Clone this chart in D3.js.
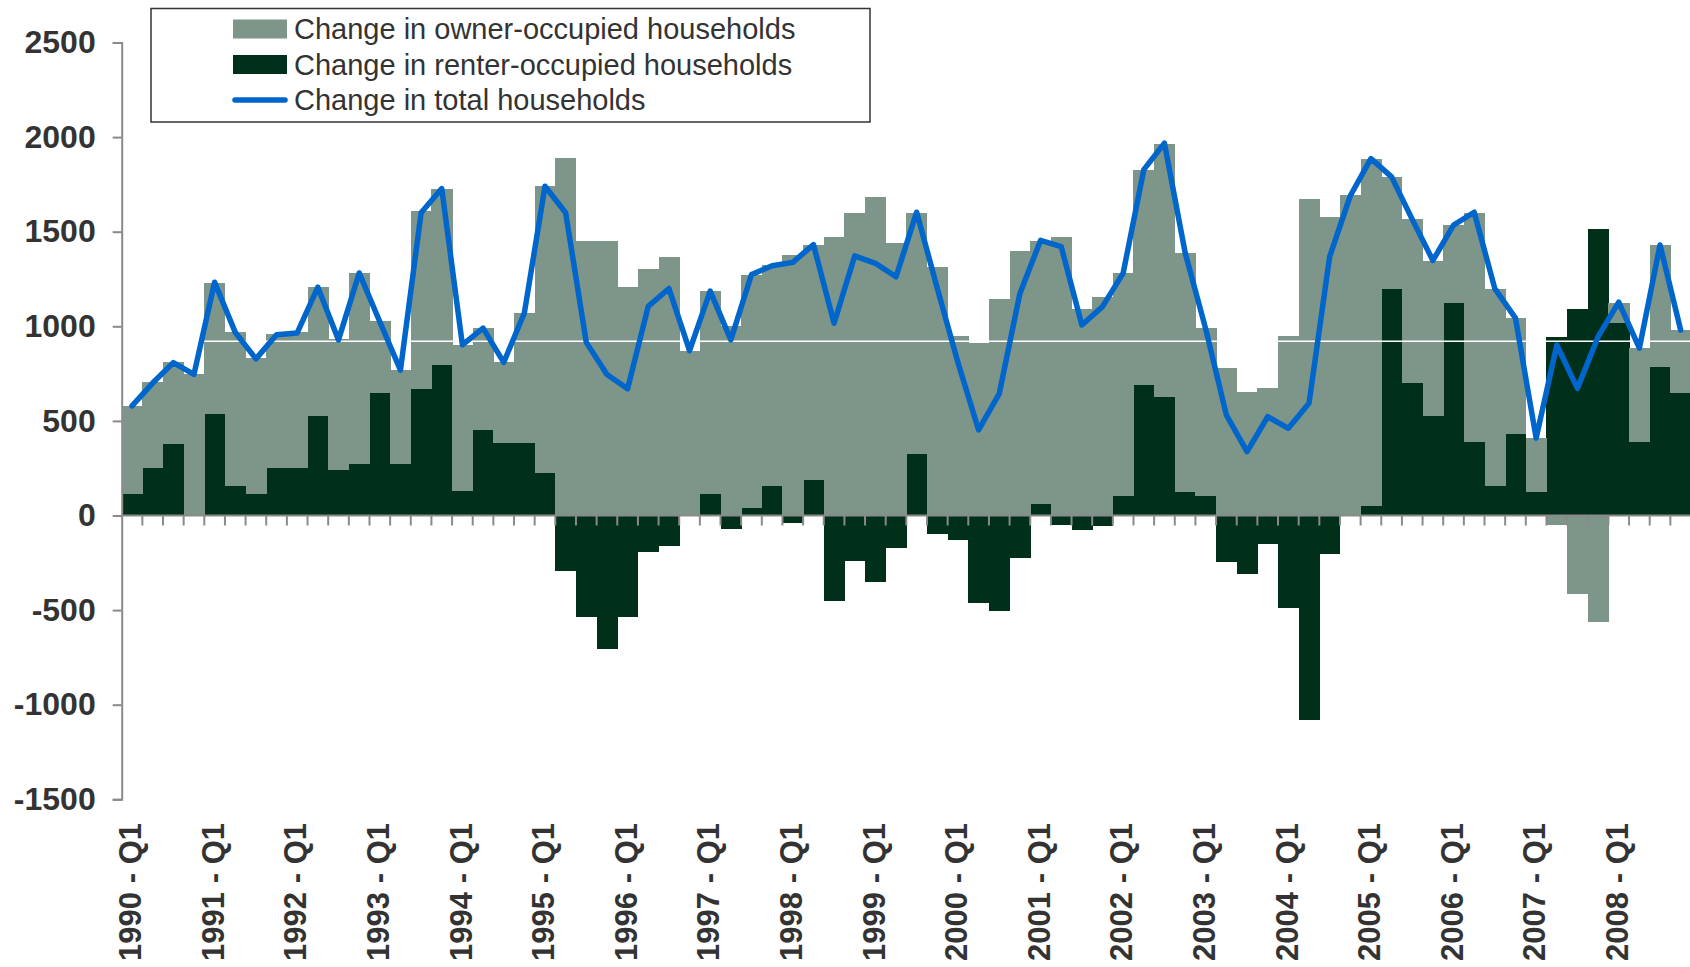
<!DOCTYPE html>
<html>
<head>
<meta charset="utf-8">
<script src="https://cdn.jsdelivr.net/npm/d3@7/dist/d3.min.js"></script>
<style>
  html, body { margin: 0; padding: 0; background: #ffffff; }
  svg { display: block; }
  text { font-family: "Liberation Sans", Arial, sans-serif; }
</style>
</head>
<body>
<svg id="chart" width="1690" height="967"></svg>
<script>
// ---------- DATA ----------
const years = [1990,1991,1992,1993,1994,1995,1996,1997,1998,1999,2000,2001,2002,2003,2004,2005,2006,2007,2008];
const quarterNames = ["Q1","Q2","Q3","Q4"];
const tickLabels = ["1990 - Q1","1991 - Q1","1992 - Q1","1993 - Q1","1994 - Q1","1995 - Q1","1996 - Q1","1997 - Q1","1998 - Q1","1999 - Q1","2000 - Q1","2001 - Q1","2002 - Q1","2003 - Q1","2004 - Q1","2005 - Q1","2006 - Q1","2007 - Q1","2008 - Q1"];
const yTicks = [-1500,-1000,-500,0,500,1000,1500,2000,2500];

// Change in owner-occupied households (thousands), 1990 Q1 .. 2008 Q4
const owner = [
  465, 453, 432, 746,   691, 814, 717, 708,   719, 682, 695, 1008,  382, 499, 940, 932,
  768, 542, 424, 685,   1514, 1890, 1450, 1450, 1206, 1302, 1366, 866, 1072, 1003, 1231, 1168,
  1377, 1242, 1472, 1599, 1684, 1440, 1274, 1314, 949, 914, 1144, 1398, 1390, 1472, 1092, 1155,
  1179, 1136, 1338, 1263, 888, 780, 653, 674,   949, 1673, 1578, 1694, 1834, 592, 867, 819,
  412, 1211, 1041, 613,  285, -48, -416, -563,  106, 497, 646, 333
];
// Change in renter-occupied households
const renter = [
  114, 251, 378, 0,     536, 156, 114, 251,   251, 526, 240, 272,   646, 271, 667, 794,
  132, 450, 385, 385,   226, -292, -535, -706, -535, -195, -163, 5,  114, -73, 40, 156,
  -41, 188, -450, -239, -354, -173, 325, -99,  -131, -460, -503, -227, 61, -51, -78, -57,
  103, 690, 626, 124,   103, -244, -310, -150, -490, -1080, -204, -5, 50, 1197, 700, 526,
  1123, 388, 156, 431,  124, 945, 1091, 1514, 1017, 388, 784, 647
];
// Change in total households
const total = [
  579, 700, 808, 746,   1233, 968, 828, 955,  965, 1207, 928, 1282, 1024, 768, 1600, 1728,
  902, 990, 809, 1070,  1740, 1600, 915, 745,  670, 1105, 1200, 871, 1186, 928, 1274, 1320,
  1338, 1432, 1016, 1372, 1333, 1262, 1603, 1200, 808, 452, 644, 1174, 1454, 1421, 1007, 1104,
  1281, 1828, 1968, 1390, 985, 531, 338, 522,   461, 593, 1368, 1690, 1886, 1790, 1565, 1348,
  1535, 1603, 1199, 1043, 409, 901, 672, 945,   1128, 884, 1430, 980
];
const seriesNames = ["Change in owner-occupied households","Change in renter-occupied households","Change in total households"];
const seamValue = 921;

// ---------- BUILD ----------
const quarters = [];
years.forEach(y => quarterNames.forEach(q => quarters.push(y + " - " + q)));
const rows = quarters.map((q, i) => ({ q, owner: owner[i], renter: renter[i], total: total[i] }));

const colors = { owner: "#7d9689", renter: "#00301a", total: "#0066cc" };
const textColor = "#333333";
const axisColor = "#8a8a8a";

const svg = d3.select("#chart");

const x = d3.scaleBand().domain(quarters).range([121.7, 1691]).paddingInner(0).paddingOuter(0);
const y = d3.scaleLinear().domain([-1500, 2500]).range([799.3, 42.5]);

const stack = d3.stack().keys(["renter", "owner"]).offset(d3.stackOffsetDiverging);
const stacked = stack(rows);

const plot = svg.append("g");
stacked.forEach(layer => {
  plot.append("g")
    .attr("fill", colors[layer.key])
    .attr("shape-rendering", "crispEdges")
    .selectAll("rect")
    .data(layer)
    .join("rect")
    .attr("x", d => x(d.data.q))
    .attr("width", x.bandwidth() + 0.5)
    .attr("y", d => y(Math.max(d[0], d[1])))
    .attr("height", d => Math.abs(y(d[0]) - y(d[1])));
});

// faint white seam visible across the bars in the original
plot.append("line")
  .attr("x1", x.range()[0]).attr("x2", x.range()[1])
  .attr("y1", y(seamValue)).attr("y2", y(seamValue))
  .attr("stroke", "#ffffff").attr("stroke-width", 1.5);

// ---------- AXES ----------
const yAxis = d3.axisLeft(y).tickValues(yTicks).tickSize(9).tickPadding(17).tickFormat(d => String(d));
const gy = svg.append("g").attr("transform", `translate(${x.range()[0]},0)`).call(yAxis);
gy.select(".domain").attr("stroke", axisColor).attr("stroke-width", 2);
gy.selectAll(".tick line").attr("stroke", axisColor).attr("stroke-width", 2);
gy.selectAll(".tick text")
  .attr("fill", textColor)
  .style("font-size", "32px")
  .style("font-weight", "bold")
  .style("font-family", "'Liberation Sans', Arial, sans-serif");

const gx = svg.append("g");
gx.append("line")
  .attr("x1", x.range()[0]).attr("x2", x.range()[1])
  .attr("y1", y(0)).attr("y2", y(0))
  .attr("stroke", axisColor).attr("stroke-width", 2);
gx.selectAll("line.tk")
  .data(quarters.slice(1).concat(["__end"]))
  .join("line")
  .attr("class", "tk")
  .attr("x1", d => d === "__end" ? x.range()[1] : x(d))
  .attr("x2", d => d === "__end" ? x.range()[1] : x(d))
  .attr("y1", y(0)).attr("y2", y(0) + 10)
  .attr("stroke", axisColor).attr("stroke-width", 2);

svg.append("g").selectAll("text")
  .data(tickLabels)
  .join("text")
  .attr("transform", d => `translate(${x(d) + x.bandwidth() / 2 - 2},823) rotate(-90)`)
  .attr("text-anchor", "end")
  .attr("dy", "0.36em")
  .attr("fill", textColor)
  .style("font-size", "31px")
  .style("font-weight", "bold")
  .text(d => d);

// ---------- LINE ----------
const line = d3.line()
  .x(d => x(d.q) + x.bandwidth() / 2)
  .y(d => y(d.total));
svg.append("path")
  .datum(rows)
  .attr("fill", "none")
  .attr("stroke", colors.total)
  .attr("stroke-width", 5.5)
  .attr("stroke-linejoin", "round")
  .attr("stroke-linecap", "round")
  .attr("d", line);

// ---------- LEGEND ----------
const lg = svg.append("g");
lg.append("rect")
  .attr("x", 151).attr("y", 8.5).attr("width", 719).attr("height", 113.5)
  .attr("fill", "#ffffff").attr("stroke", "#333333").attr("stroke-width", 1.5);
const legendRows = [
  { name: seriesNames[0], type: "rect", color: colors.owner },
  { name: seriesNames[1], type: "rect", color: colors.renter },
  { name: seriesNames[2], type: "line", color: colors.total }
];
const rowY = d3.scalePoint().domain(d3.range(legendRows.length)).range([29, 100]);
legendRows.forEach((r, i) => {
  const cy = rowY(i);
  if (r.type === "rect") {
    lg.append("rect").attr("x", 233).attr("y", cy - 9.5).attr("width", 54).attr("height", 19).attr("fill", r.color);
  } else {
    lg.append("line").attr("x1", 235).attr("x2", 285).attr("y1", cy).attr("y2", cy)
      .attr("stroke", r.color).attr("stroke-width", 5.5).attr("stroke-linecap", "round");
  }
  lg.append("text")
    .attr("x", 294).attr("y", cy).attr("dy", "0.36em")
    .attr("fill", textColor)
    .style("font-size", "29px")
    .text(r.name);
});
</script>
</body>
</html>
